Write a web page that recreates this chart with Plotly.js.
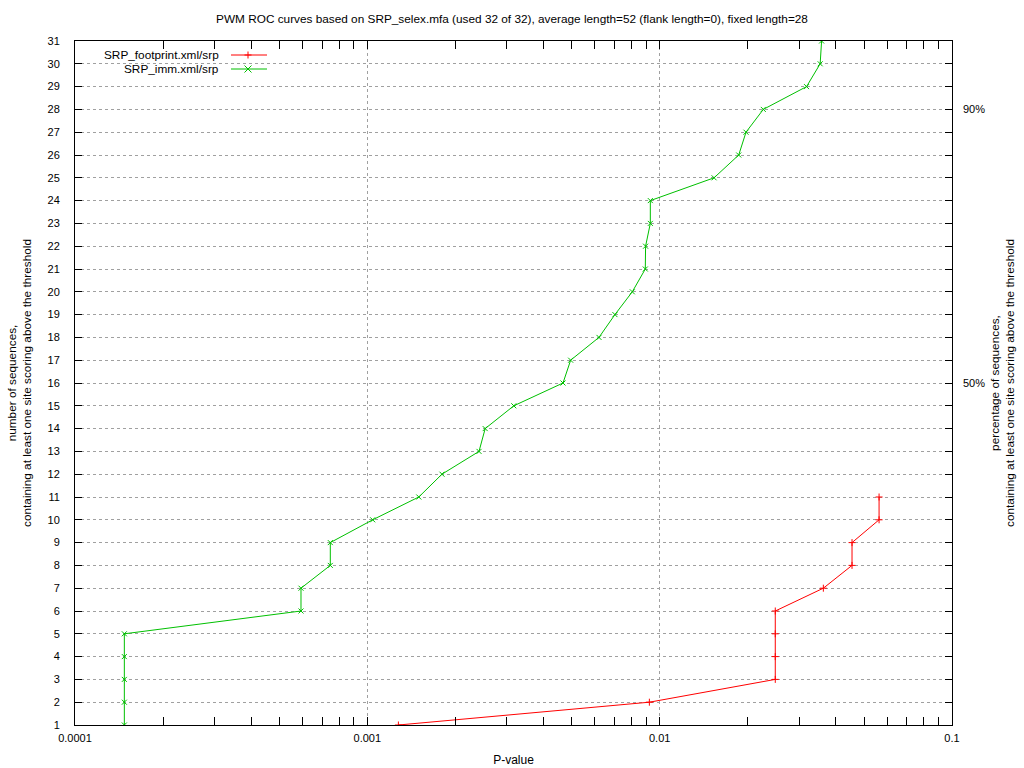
<!DOCTYPE html>
<html>
<head>
<meta charset="utf-8">
<script src="https://cdn.plot.ly/plotly-3.0.1.min.js"></script>
<style>
html,body{margin:0;padding:0;background:#fff;}
#chart{width:1024px;height:768px;}
</style>
</head>
<body>
<div id="chart"></div>
<script>
// ---- data ----
const footprintP = [1.277e-3, 9.22e-3, 2.486e-2, 2.486e-2, 2.486e-2, 2.486e-2, 3.63e-2, 4.55e-2, 4.55e-2, 5.63e-2, 5.63e-2];
const footprintN = [1, 2, 3, 4, 5, 6, 7, 8, 9, 10, 11];

const immP = [1.475e-4, 1.475e-4, 1.475e-4, 1.475e-4, 1.475e-4, 5.93e-4, 5.93e-4, 7.47e-4, 7.47e-4, 1.043e-3,
              1.50e-3, 1.80e-3, 2.41e-3, 2.53e-3, 3.17e-3, 4.67e-3, 4.96e-3, 6.20e-3, 7.03e-3, 8.06e-3,
              8.93e-3, 8.95e-3, 9.29e-3, 9.29e-3, 1.535e-2, 1.864e-2, 1.974e-2, 2.262e-2, 3.18e-2, 3.54e-2, 3.58e-2];
const immN = [1, 2, 3, 4, 5, 6, 7, 8, 9, 10, 11, 12, 13, 14, 15, 16, 17, 18, 19, 20,
              21, 22, 23, 24, 25, 26, 27, 28, 29, 30, 31];

const seriesNames = ['SRP_footprint.xml/srp', 'SRP_imm.xml/srp'];
const seriesColors = ['#ff0000', '#00c000'];

const xTickVals = [1e-4, 1e-3, 1e-2, 1e-1];
const xTickText = ['0.0001', '0.001', '0.01', '0.1'];
const y2TickVals = [50, 90];
const y2TickText = ['50%', '90%'];

const titleText = 'PWM ROC curves based on SRP_selex.mfa (used 32 of 32), average length=52 (flank length=0), fixed length=28';
const xTitle = 'P-value';
const yTitle = 'number of sequences,<br>containing at least one site scoring above the threshold';
const y2Title = 'percentage of sequences,<br>containing at least one site scoring above the threshold';

// ---- layout helpers ----
const W = 1024, H = 768;
const L = 75, R = 952, T = 41, B = 725;
const pw = R - L, ph = B - T;
const px = v => (v - L) / pw;
const py = v => (B - v) / ph;

const minorVals = [];
for (let e = -4; e < -1; e++) for (let m = 2; m <= 9; m++) minorVals.push(m * Math.pow(10, e));

const FONT = 'Liberation Sans, Arial, sans-serif';
const txt = (s) => ({family: FONT, size: s, color: '#000'});

const traces = [
  {x: footprintP, y: footprintN, name: seriesNames[0], type: 'scatter', mode: 'lines+markers',
   line: {color: seriesColors[0], width: 1},
   marker: {symbol: 'cross-thin', size: 5, line: {color: seriesColors[0], width: 1}},
   showlegend: false, hoverinfo: 'x+y'},
  {x: immP, y: immN, name: seriesNames[1], type: 'scatter', mode: 'lines+markers',
   line: {color: seriesColors[1], width: 1},
   marker: {symbol: 'x-thin', size: 5, line: {color: seriesColors[1], width: 1}},
   showlegend: false, hoverinfo: 'x+y'},
  // empty carrier so the percentage axis is drawn
  {x: [], y: [], yaxis: 'y2', type: 'scatter', mode: 'markers', showlegend: false, hoverinfo: 'skip'}
];

// custom gnuplot-style legend (text, then sample)
const legendRows = [55, 69];
const shapes = [];
const annotations = [];
seriesNames.forEach((nm, i) => {
  const yy = py(legendRows[i]);
  annotations.push({text: nm, xref: 'paper', yref: 'paper', x: px(221), y: yy,
    xanchor: 'right', yanchor: 'middle', showarrow: false, font: txt(11.8)});
  shapes.push({type: 'line', xref: 'paper', yref: 'paper', x0: px(231), x1: px(267), y0: yy, y1: yy,
    line: {color: seriesColors[i], width: 1}});
  shapes.push({type: 'path', xref: 'paper', yref: 'paper', xsizemode: 'pixel', ysizemode: 'pixel',
    xanchor: px(248), yanchor: yy,
    path: i === 0 ? 'M-3.5,0H3.5M0,-3.5V3.5' : 'M-3.5,-3.5L3.5,3.5M-3.5,3.5L3.5,-3.5',
    line: {color: seriesColors[i], width: 1}});
});

const layout = {
  width: W, height: H,
  margin: {l: L, r: W - R, t: T, b: H - B, pad: 0},
  paper_bgcolor: '#fff', plot_bgcolor: '#fff',
  font: txt(11),
  showlegend: false,
  title: {text: titleText, x: 0.5, xanchor: 'center', y: 1 - 19 / H, yanchor: 'middle', yref: 'container',
          font: txt(11.8)},
  xaxis: {
    type: 'log', range: [-4, -1], tickvals: xTickVals, ticktext: xTickText,
    ticks: 'inside', ticklen: 8, tickcolor: '#000', tickwidth: 1,
    showline: true, linecolor: '#000', linewidth: 1, mirror: 'allticks',
    showgrid: true, gridcolor: '#a0a0a0', gridwidth: 1, griddash: '3px,3px',
    zeroline: false, ticklabelstandoff: 3,
    minor: {tickvals: minorVals, ticks: 'inside', ticklen: 4, tickcolor: '#000', showgrid: false},
    title: {text: xTitle, standoff: 12, font: txt(12)},
    automargin: false
  },
  yaxis: {
    range: [1, 31], dtick: 1, tick0: 1,
    ticks: 'inside', ticklen: 7, tickcolor: '#000', tickwidth: 1,
    showline: true, linecolor: '#000', linewidth: 1, mirror: 'allticks',
    showgrid: true, gridcolor: '#a0a0a0', gridwidth: 1, griddash: '3px,3px',
    zeroline: false, ticklabelstandoff: 12,
    title: {text: yTitle, standoff: 13, font: txt(11.8)},
    automargin: false
  },
  yaxis2: {
    overlaying: 'y', side: 'right', anchor: 'x', range: [0, 100],
    tickvals: y2TickVals, ticktext: y2TickText,
    ticks: '', showline: false, showgrid: false, zeroline: false,
    ticklabelstandoff: 10,
    title: {text: y2Title, standoff: 6, font: txt(11.8)},
    automargin: false
  },
  shapes: shapes,
  annotations: annotations
};

Plotly.newPlot('chart', traces, layout, {displayModeBar: false, staticPlot: true});
</script>
</body>
</html>
